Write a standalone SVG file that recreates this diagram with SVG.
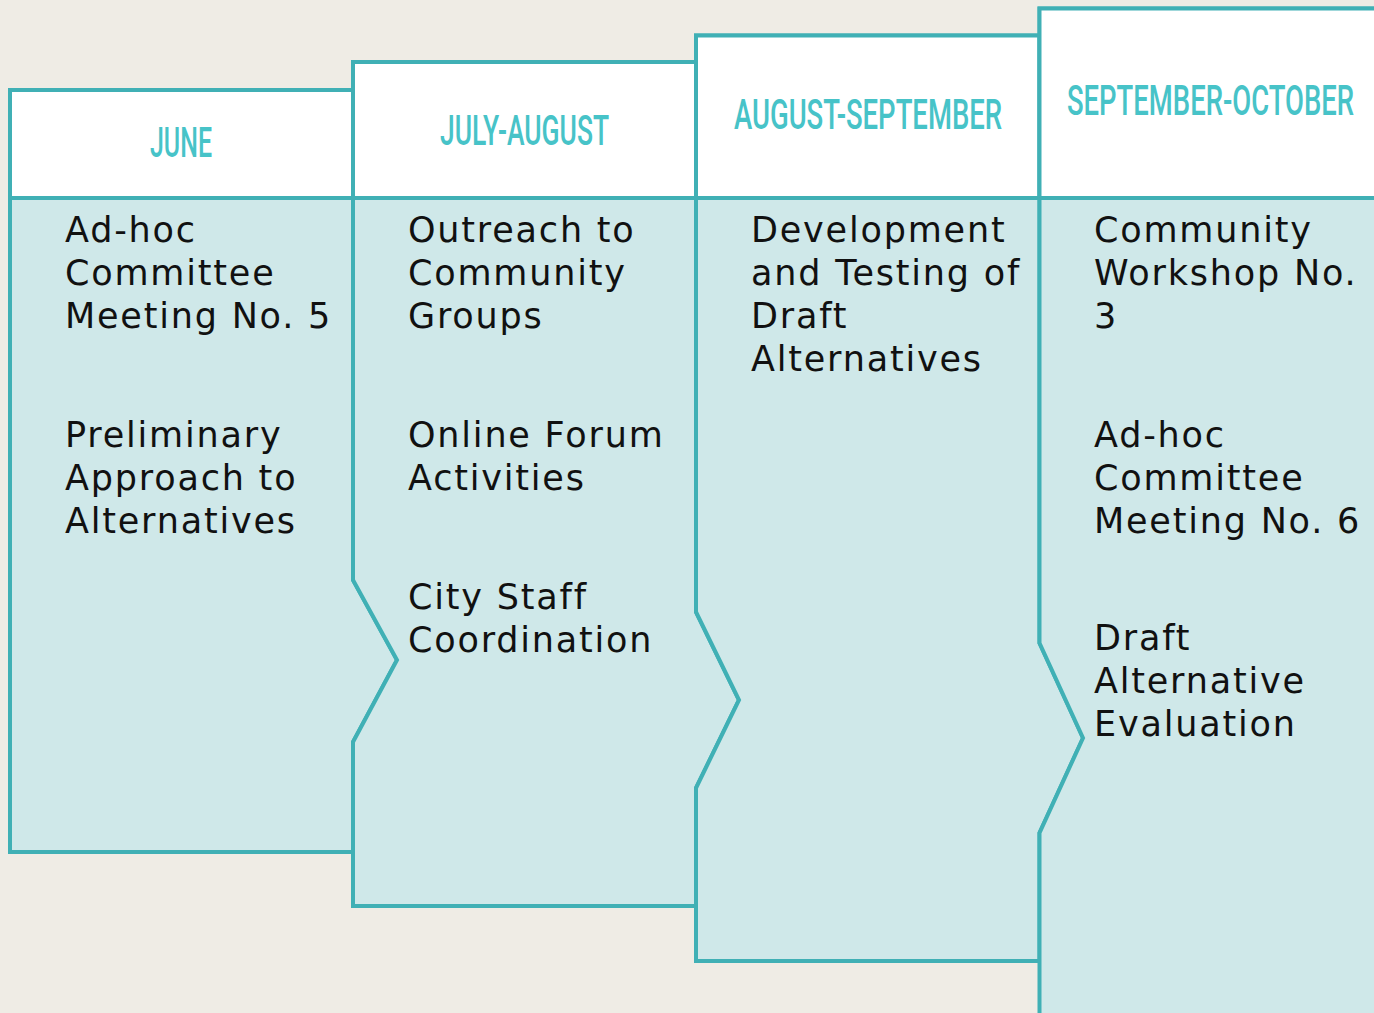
<svg xmlns="http://www.w3.org/2000/svg" width="1374" height="1013" viewBox="0 0 1374 1013">
<style>
.panel{fill:#cfe8e9;stroke:#40b0b5;stroke-width:4;stroke-linejoin:miter}
.head{fill:#ffffff;stroke:#40b0b5;stroke-width:4}
.ht{font-family:Roboto,"Liberation Sans",sans-serif;font-weight:500;font-size:43px;fill:#47c3c8;text-anchor:middle}
.bt{font-family:"DejaVu Sans",sans-serif;font-size:35px;fill:#111111;letter-spacing:1.8px}
</style>
<rect width="1374" height="1013" fill="#efece5"/>
<g id="panel-june">
<polygon class="panel" points="10,90 353,90 353,580 397,660 353,742 353,852 10,852"/>
<rect class="head" x="10" y="90" width="343" height="108"/>
<text class="ht" transform="translate(181,157) scale(0.62,1)" x="0" y="0" textLength="100" lengthAdjust="spacingAndGlyphs">JUNE</text>
<text class="bt" x="65" y="242">Ad-hoc</text>
<text class="bt" x="65" y="285">Committee</text>
<text class="bt" x="65" y="328">Meeting No. 5</text>
<text class="bt" x="65" y="447">Preliminary</text>
<text class="bt" x="65" y="490">Approach to</text>
<text class="bt" x="65" y="533">Alternatives</text>
</g>
<g id="panel-july-august">
<polygon class="panel" points="353,62 696,62 696,612 739,700 696,788 696,906 353,906 353,742 397,660 353,580"/>
<rect class="head" x="353" y="62" width="343" height="136"/>
<text class="ht" transform="translate(524.5,145) scale(0.62,1)" x="0" y="0" textLength="272.6" lengthAdjust="spacingAndGlyphs">JULY-AUGUST</text>
<text class="bt" x="408" y="242">Outreach to</text>
<text class="bt" x="408" y="285">Community</text>
<text class="bt" x="408" y="328">Groups</text>
<text class="bt" x="408" y="447">Online Forum</text>
<text class="bt" x="408" y="490">Activities</text>
<text class="bt" x="408" y="609">City Staff</text>
<text class="bt" x="408" y="652">Coordination</text>
</g>
<g id="panel-august-september">
<polygon class="panel" points="696,35.5 1039.5,35.5 1039.5,643 1083,738 1039.5,833 1039.5,961 696,961 696,788 739,700 696,612"/>
<rect class="head" x="696" y="35.5" width="343.5" height="162.5"/>
<text class="ht" transform="translate(868,129) scale(0.62,1)" x="0" y="0" textLength="432.3" lengthAdjust="spacingAndGlyphs">AUGUST-SEPTEMBER</text>
<text class="bt" x="751" y="242">Development</text>
<text class="bt" x="751" y="285">and Testing of</text>
<text class="bt" x="751" y="328">Draft</text>
<text class="bt" x="751" y="371">Alternatives</text>
</g>
<g id="panel-september-october">
<polygon class="panel" points="1039.5,8.5 1390,8.5 1390,1030 1039.5,1030 1039.5,833 1083,738 1039.5,643"/>
<rect class="head" x="1039.5" y="8.5" width="350" height="189.5"/>
<text class="ht" transform="translate(1210.5,115) scale(0.62,1)" x="0" y="0" textLength="462.9" lengthAdjust="spacingAndGlyphs">SEPTEMBER-OCTOBER</text>
<text class="bt" x="1094" y="242">Community</text>
<text class="bt" x="1094" y="285">Workshop No.</text>
<text class="bt" x="1094" y="328">3</text>
<text class="bt" x="1094" y="447">Ad-hoc</text>
<text class="bt" x="1094" y="490">Committee</text>
<text class="bt" x="1094" y="533">Meeting No. 6</text>
<text class="bt" x="1094" y="650">Draft</text>
<text class="bt" x="1094" y="693">Alternative</text>
<text class="bt" x="1094" y="736">Evaluation</text>
</g>
<g id="connectors"/>
</svg>
